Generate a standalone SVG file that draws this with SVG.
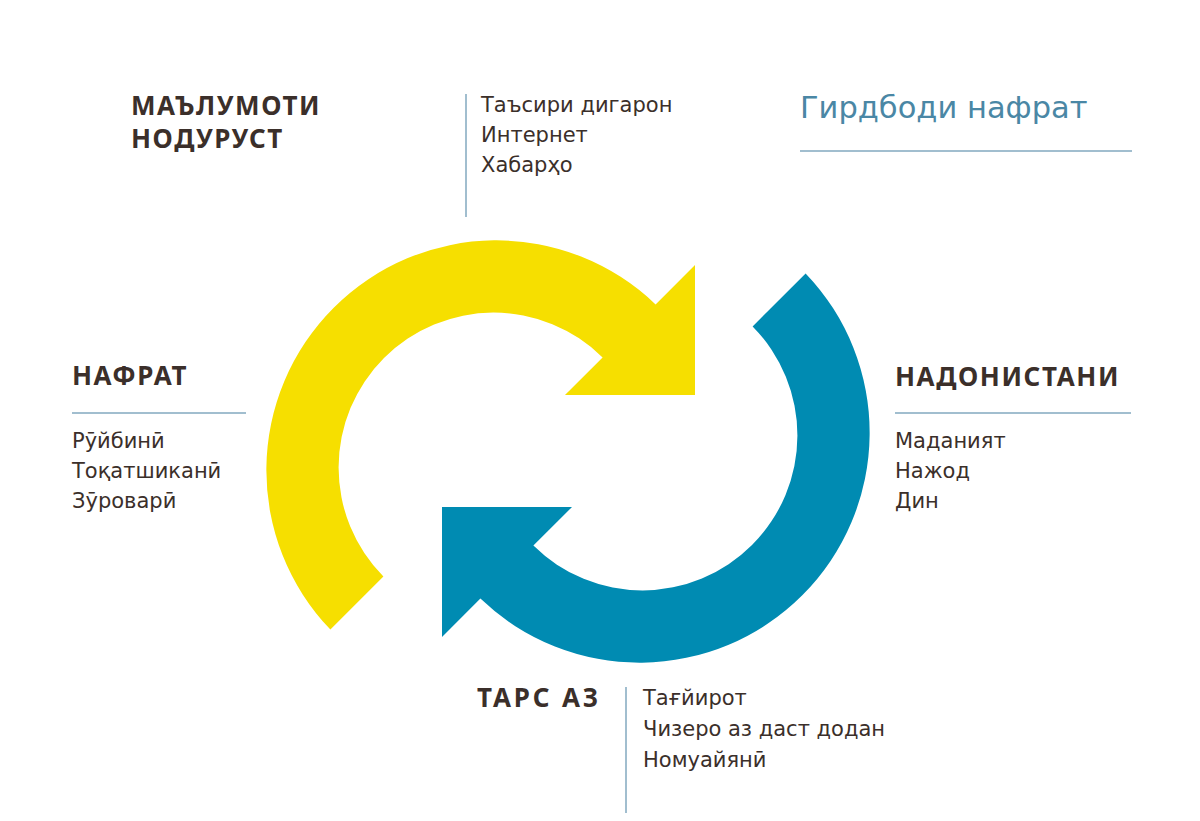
<svg xmlns="http://www.w3.org/2000/svg" width="1200" height="821" viewBox="0 0 1200 821">
<style>
.h{font-family:"Noto Sans","DejaVu Sans",sans-serif;font-weight:bold;font-size:26px;fill:#3b2f2a;letter-spacing:1.6px}
.t{font-family:"DejaVu Sans","Noto Sans",sans-serif;font-size:21px;fill:#3b2f2a}
.ttl{font-family:"DejaVu Sans","Noto Sans",sans-serif;font-size:30.5px;fill:#4a87a5}
.rule{stroke:#82a9bf;stroke-width:1.5;fill:none}
</style>
<rect width="1200" height="821" fill="#ffffff"/>
<g id="connectors">
<path id="yellow-arrow" fill="#f6df00" d="M 330.4 629.6 A 230 230 0 0 1 655.6 304.4 L 695 265 L 695 395 L 565 395 L 602.6 357.4 A 155 155 0 0 0 383.4 576.6 Z"/>
<path id="blue-arrow" fill="#008bb2" d="M 805.6 273.4 A 230 230 0 0 1 480.4 598.6 L 442 637 L 442 507 L 572 507 L 533.4 545.6 A 155 155 0 0 0 752.6 326.4 Z"/>
</g>
<g id="title">
<text class="ttl" x="800" y="118">Гирдбоди нафрат</text>
<line class="rule" x1="800" y1="151" x2="1132" y2="151"/>
</g>
<g id="node-misinformation">
<text class="h" x="131" y="115">МАЪЛУМОТИ</text>
<text class="h" x="131" y="148">НОДУРУСТ</text>
<line class="rule" x1="466" y1="94" x2="466" y2="217"/>
<text class="t" x="481" y="112">Таъсири дигарон</text>
<text class="t" x="481" y="142">Интернет</text>
<text class="t" x="481" y="172">Хабарҳо</text>
</g>
<g id="node-hatred">
<text class="h" x="72" y="385">НАФРАТ</text>
<line class="rule" x1="72" y1="413" x2="246" y2="413"/>
<text class="t" x="72" y="448">Рӯйбинӣ</text>
<text class="t" x="72" y="478">Тоқатшиканӣ</text>
<text class="t" x="72" y="508">Зӯроварӣ</text>
</g>
<g id="node-ignorance">
<text class="h" x="895" y="386">НАДОНИСТАНИ</text>
<line class="rule" x1="895" y1="413" x2="1131" y2="413"/>
<text class="t" x="895" y="448">Маданият</text>
<text class="t" x="895" y="478">Нажод</text>
<text class="t" x="895" y="508">Дин</text>
</g>
<g id="node-fear">
<text class="h" x="477" y="707" style="letter-spacing:2.8px">ТАРС АЗ</text>
<line class="rule" x1="626" y1="687" x2="626" y2="813"/>
<text class="t" x="643" y="705">Тағйирот</text>
<text class="t" x="643" y="736">Чизеро аз даст додан</text>
<text class="t" x="643" y="767">Номуайянӣ</text>
</g>
</svg>
